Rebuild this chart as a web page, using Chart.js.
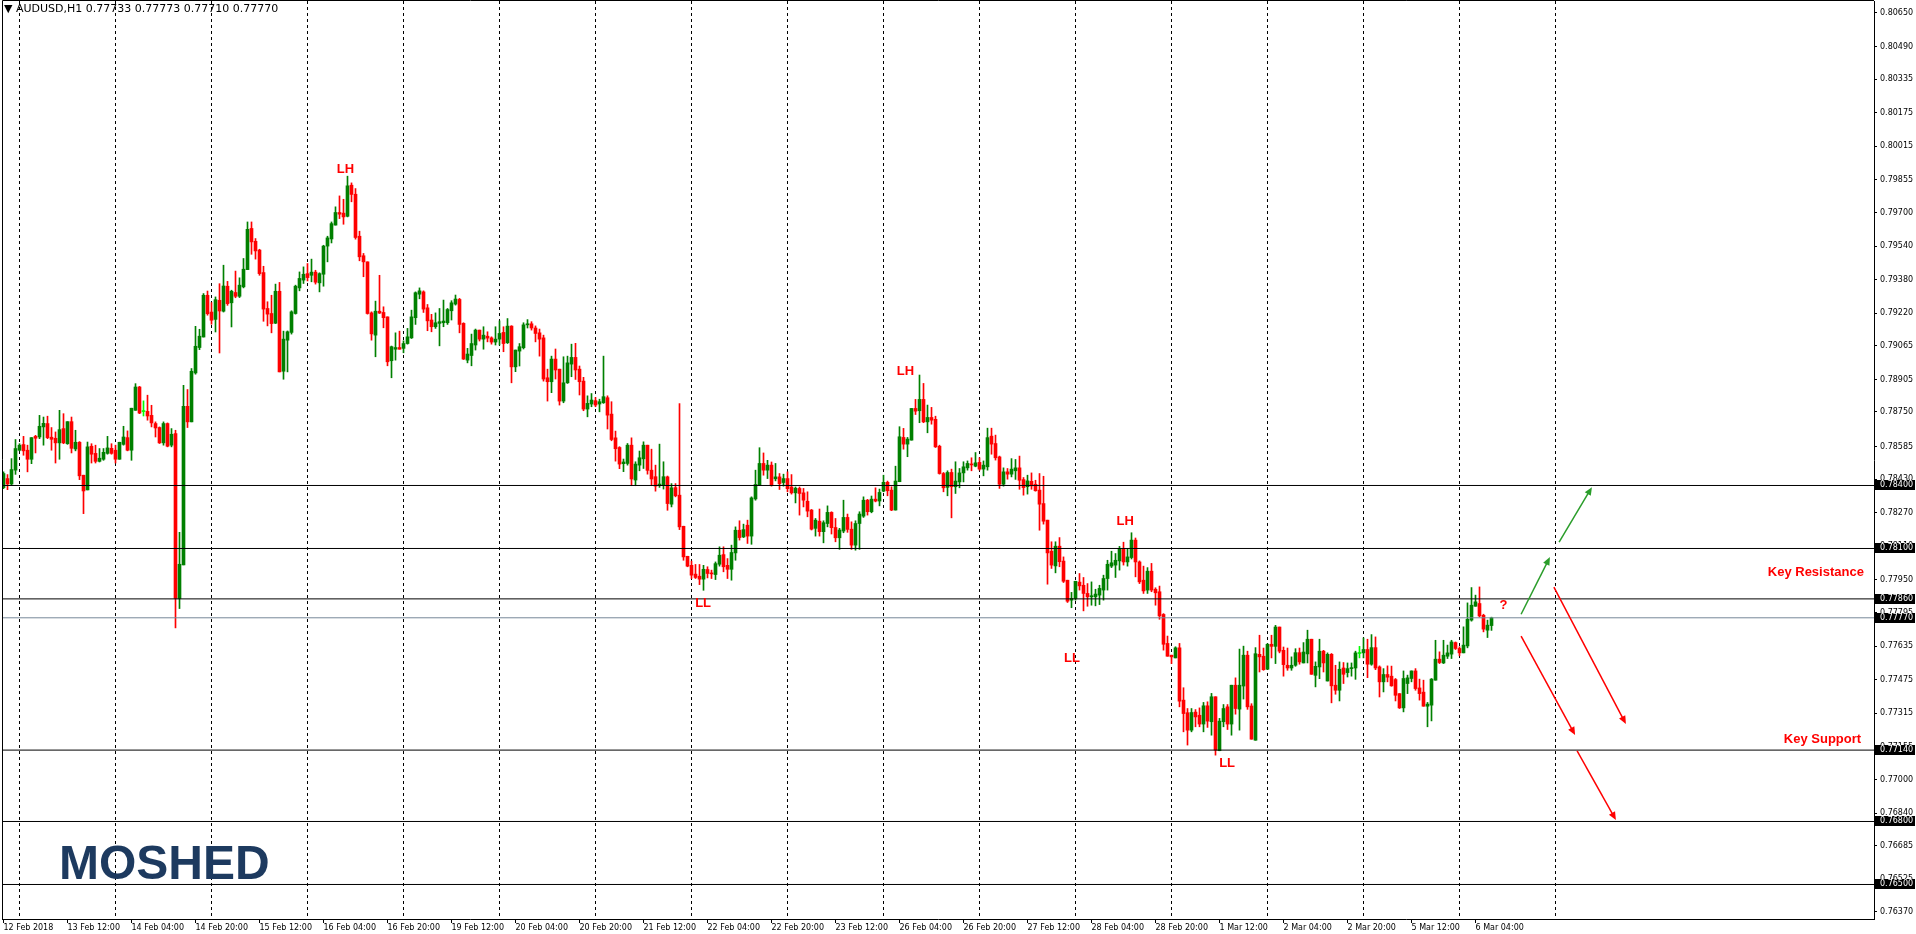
<!DOCTYPE html>
<html>
<head>
<meta charset="utf-8">
<script src="https://cdn.jsdelivr.net/npm/chart.js@4.4.0/dist/chart.umd.min.js"></script>
<style>
  html, body { margin: 0; padding: 0; background: #fff; overflow: hidden; }
</style>
</head>
<body>
<canvas id="chart" width="1916" height="934"></canvas>
<script>
// AUDUSD H1 candles, first bar = 12 Feb 2018 20:00
const open = [
  0.78390,0.78433,0.78407,0.78473,0.78568,0.78595,0.78568,0.78525,0.78634,0.78631,
  0.78679,0.78695,0.78630,0.78625,0.78603,0.78671,0.78599,0.78704,0.78574,0.78606,
  0.78449,0.78379,0.78587,0.78553,0.78515,0.78525,0.78553,0.78577,0.78568,0.78525,
  0.78596,0.78628,0.78568,0.78758,0.78869,0.78752,0.78753,0.78734,0.78695,0.78676,
  0.78603,0.78695,0.78592,0.78647,0.77862,0.78022,0.78777,0.78703,0.78936,0.79057,
  0.79107,0.79306,0.79226,0.79191,0.79282,0.79230,0.79349,0.79270,0.79319,0.79301,
  0.79346,0.79428,0.79624,0.79563,0.79521,0.79414,0.79243,0.79219,0.79173,0.79325,
  0.78944,0.79092,0.79129,0.79219,0.79341,0.79378,0.79409,0.79401,0.79416,0.79365,
  0.79406,0.79540,0.79574,0.79640,0.79700,0.79697,0.79682,0.79830,0.79787,0.79587,
  0.79494,0.79465,0.79222,0.79116,0.79230,0.79224,0.79203,0.78994,0.79049,0.79057,
  0.79053,0.79076,0.79103,0.79199,0.79311,0.79322,0.79246,0.79188,0.79156,0.79172,
  0.79175,0.79175,0.79232,0.79264,0.79286,0.79172,0.78997,0.79019,0.79069,0.79140,
  0.79097,0.79111,0.79103,0.79083,0.79097,0.79129,0.79080,0.79159,0.78965,0.79040,
  0.79056,0.79165,0.79170,0.79150,0.79127,0.79103,0.78913,0.78894,0.79002,0.78954,
  0.78802,0.78889,0.78978,0.79010,0.78954,0.78897,0.78764,0.78788,0.78804,0.78788,
  0.78794,0.78818,0.78740,0.78627,0.78581,0.78504,0.78505,0.78592,0.78426,0.78497,
  0.78527,0.78592,0.78473,0.78442,0.78400,0.78402,0.78441,0.78311,0.78390,0.78354,
  0.78206,0.78063,0.78020,0.77978,0.77968,0.77954,0.78000,0.77983,0.77976,0.78025,
  0.78071,0.78020,0.78001,0.78079,0.78187,0.78155,0.78211,0.78159,0.78336,0.78400,
  0.78505,0.78473,0.78497,0.78432,0.78441,0.78414,0.78433,0.78393,0.78365,0.78386,
  0.78365,0.78325,0.78283,0.78196,0.78230,0.78180,0.78219,0.78272,0.78200,0.78151,
  0.78183,0.78248,0.78192,0.78116,0.78219,0.78254,0.78330,0.78275,0.78335,0.78326,
  0.78373,0.78415,0.78378,0.78283,0.78418,0.78629,0.78597,0.78616,0.78767,0.78756,
  0.78810,0.78703,0.78724,0.78715,0.78587,0.78457,0.78391,0.78462,0.78394,0.78417,
  0.78460,0.78484,0.78502,0.78492,0.78510,0.78478,0.78489,0.78635,0.78600,0.78536,
  0.78406,0.78465,0.78454,0.78470,0.78484,0.78428,0.78394,0.78420,0.78406,0.78378,
  0.78314,0.78235,0.78087,0.78017,0.78111,0.78040,0.77949,0.77854,0.77862,0.77940,
  0.77925,0.77886,0.77870,0.77870,0.77878,0.77902,0.77957,0.78016,0.78021,0.78041,
  0.78100,0.78036,0.78057,0.78140,0.78036,0.77949,0.77902,0.77992,0.77906,0.77894,
  0.77786,0.77648,0.77592,0.77579,0.77627,0.77378,0.77318,0.77235,0.77321,0.77306,
  0.77264,0.77351,0.77275,0.77394,0.77137,0.77275,0.77346,0.77264,0.77449,0.77335,
  0.77445,0.77592,0.77350,0.77187,0.77596,0.77587,0.77525,0.77644,0.77634,0.77726,
  0.77615,0.77544,0.77531,0.77544,0.77604,0.77555,0.77598,0.77668,0.77496,0.77536,
  0.77611,0.77469,0.77596,0.77449,0.77425,0.77531,0.77509,0.77528,0.77531,0.77600,
  0.77603,0.77619,0.77549,0.77628,0.77536,0.77465,0.77500,0.77492,0.77476,0.77409,
  0.77341,0.77457,0.77481,0.77517,0.77436,0.77416,0.77349,0.77354,0.77473,0.77573,
  0.77555,0.77587,0.77597,0.77652,0.77624,0.77603,0.77636,0.77759,0.77825,0.77838,
  0.77782,0.77711,0.77733
];
const high = [
  0.78465,0.78452,0.78528,0.78619,0.78599,0.78634,0.78592,0.78628,0.78639,0.78734,
  0.78726,0.78730,0.78676,0.78655,0.78758,0.78742,0.78704,0.78726,0.78663,0.78609,
  0.78449,0.78607,0.78599,0.78592,0.78576,0.78576,0.78634,0.78599,0.78592,0.78606,
  0.78682,0.78660,0.78768,0.78885,0.78872,0.78803,0.78830,0.78782,0.78703,0.78679,
  0.78703,0.78698,0.78671,0.78663,0.78177,0.78877,0.78857,0.78957,0.79158,0.79144,
  0.79314,0.79326,0.79271,0.79298,0.79361,0.79449,0.79372,0.79330,0.79421,0.79389,
  0.79481,0.79655,0.79655,0.79576,0.79525,0.79444,0.79275,0.79306,0.79359,0.79367,
  0.79135,0.79136,0.79232,0.79354,0.79417,0.79441,0.79457,0.79478,0.79425,0.79413,
  0.79544,0.79587,0.79655,0.79727,0.79779,0.79763,0.79873,0.79841,0.79814,0.79611,
  0.79505,0.79465,0.79227,0.79278,0.79401,0.79251,0.79203,0.79064,0.79127,0.79135,
  0.79089,0.79148,0.79235,0.79322,0.79341,0.79327,0.79262,0.79215,0.79222,0.79243,
  0.79283,0.79243,0.79280,0.79307,0.79291,0.79175,0.79053,0.79121,0.79145,0.79140,
  0.79156,0.79132,0.79108,0.79156,0.79184,0.79156,0.79195,0.79161,0.79045,0.79076,
  0.79175,0.79190,0.79180,0.79160,0.79145,0.79116,0.78954,0.79016,0.79050,0.78954,
  0.79013,0.79016,0.79073,0.79077,0.78969,0.78915,0.78827,0.78838,0.78819,0.78811,
  0.79016,0.78827,0.78799,0.78659,0.78585,0.78526,0.78600,0.78627,0.78513,0.78564,
  0.78608,0.78592,0.78573,0.78497,0.78597,0.78513,0.78445,0.78409,0.78409,0.78790,
  0.78206,0.78063,0.78040,0.78024,0.78024,0.78020,0.78013,0.77997,0.78036,0.78108,
  0.78108,0.78052,0.78116,0.78203,0.78232,0.78216,0.78235,0.78346,0.78473,0.78580,
  0.78555,0.78520,0.78512,0.78505,0.78457,0.78454,0.78465,0.78452,0.78393,0.78393,
  0.78386,0.78370,0.78286,0.78243,0.78288,0.78232,0.78303,0.78275,0.78243,0.78196,
  0.78330,0.78264,0.78227,0.78232,0.78275,0.78346,0.78334,0.78350,0.78389,0.78383,
  0.78449,0.78421,0.78394,0.78492,0.78680,0.78672,0.78629,0.78767,0.78810,0.78926,
  0.78886,0.78783,0.78772,0.78730,0.78592,0.78462,0.78470,0.78478,0.78513,0.78481,
  0.78513,0.78517,0.78532,0.78557,0.78532,0.78517,0.78673,0.78673,0.78640,0.78540,
  0.78484,0.78481,0.78528,0.78524,0.78540,0.78438,0.78449,0.78460,0.78425,0.78457,
  0.78444,0.78235,0.78132,0.78132,0.78152,0.78060,0.77949,0.77891,0.77944,0.77981,
  0.77962,0.77933,0.77941,0.77906,0.77925,0.77973,0.78044,0.78087,0.78076,0.78110,
  0.78130,0.78100,0.78175,0.78150,0.78041,0.78016,0.78009,0.78029,0.77913,0.77921,
  0.77790,0.77683,0.77592,0.77632,0.77648,0.77437,0.77338,0.77338,0.77333,0.77341,
  0.77367,0.77370,0.77410,0.77394,0.77291,0.77357,0.77357,0.77449,0.77484,0.77621,
  0.77635,0.77611,0.77361,0.77628,0.77687,0.77626,0.77647,0.77687,0.77734,0.77726,
  0.77631,0.77626,0.77584,0.77623,0.77626,0.77652,0.77711,0.77668,0.77560,0.77668,
  0.77615,0.77603,0.77600,0.77544,0.77560,0.77557,0.77555,0.77555,0.77611,0.77634,
  0.77674,0.77668,0.77690,0.77679,0.77541,0.77528,0.77541,0.77540,0.77481,0.77409,
  0.77517,0.77497,0.77517,0.77528,0.77478,0.77473,0.77367,0.77481,0.77663,0.77608,
  0.77663,0.77640,0.77663,0.77655,0.77632,0.77727,0.77841,0.77914,0.77878,0.77917,
  0.77787,0.77759,0.77773
];
const low = [
  0.78385,0.78380,0.78401,0.78453,0.78565,0.78544,0.78465,0.78504,0.78555,0.78623,
  0.78592,0.78623,0.78568,0.78507,0.78525,0.78599,0.78596,0.78555,0.78565,0.78428,
  0.78266,0.78379,0.78507,0.78507,0.78512,0.78520,0.78549,0.78549,0.78507,0.78525,
  0.78592,0.78565,0.78520,0.78758,0.78742,0.78731,0.78711,0.78679,0.78631,0.78600,
  0.78592,0.78584,0.78584,0.77722,0.77814,0.78022,0.78676,0.78703,0.78930,0.79047,
  0.79107,0.79211,0.79168,0.79131,0.79031,0.79226,0.79258,0.79155,0.79294,0.79295,
  0.79341,0.79428,0.79501,0.79478,0.79401,0.79182,0.79160,0.79127,0.79171,0.78941,
  0.78906,0.78941,0.79121,0.79216,0.79327,0.79362,0.79374,0.79370,0.79359,0.79322,
  0.79349,0.79465,0.79555,0.79640,0.79671,0.79644,0.79679,0.79751,0.79573,0.79470,
  0.79394,0.79216,0.79092,0.79013,0.79219,0.79151,0.78970,0.78913,0.78997,0.79049,
  0.79032,0.79073,0.79100,0.79167,0.79289,0.79224,0.79137,0.79132,0.79148,0.79065,
  0.79156,0.79167,0.79188,0.79259,0.79127,0.79000,0.78984,0.78970,0.79045,0.79088,
  0.79049,0.79084,0.79073,0.79069,0.79069,0.79037,0.79076,0.78889,0.78942,0.78969,
  0.79050,0.79150,0.79140,0.79084,0.79016,0.78897,0.78802,0.78842,0.78907,0.78783,
  0.78794,0.78886,0.78918,0.78905,0.78831,0.78756,0.78727,0.78775,0.78775,0.78751,
  0.78791,0.78669,0.78613,0.78516,0.78480,0.78466,0.78497,0.78399,0.78399,0.78470,
  0.78481,0.78454,0.78399,0.78373,0.78391,0.78383,0.78282,0.78298,0.78346,0.78190,
  0.78044,0.78013,0.77957,0.77957,0.77928,0.77901,0.77960,0.77957,0.77952,0.78016,
  0.77989,0.77957,0.77949,0.78044,0.78140,0.78152,0.78124,0.78120,0.78330,0.78400,
  0.78449,0.78433,0.78397,0.78422,0.78381,0.78397,0.78370,0.78359,0.78317,0.78259,
  0.78298,0.78251,0.78188,0.78159,0.78159,0.78127,0.78203,0.78169,0.78132,0.78096,
  0.78175,0.78177,0.78096,0.78092,0.78096,0.78248,0.78259,0.78270,0.78322,0.78303,
  0.78370,0.78351,0.78280,0.78283,0.78418,0.78573,0.78537,0.78616,0.78738,0.78699,
  0.78699,0.78651,0.78692,0.78581,0.78454,0.78370,0.78351,0.78246,0.78362,0.78389,
  0.78417,0.78473,0.78470,0.78489,0.78473,0.78446,0.78473,0.78549,0.78521,0.78386,
  0.78397,0.78430,0.78441,0.78429,0.78382,0.78354,0.78359,0.78382,0.78373,0.78187,
  0.78216,0.77930,0.78005,0.77984,0.78013,0.77938,0.77843,0.77818,0.77854,0.77902,
  0.77803,0.77825,0.77830,0.77827,0.77833,0.77854,0.77902,0.78009,0.77962,0.77997,
  0.78021,0.78016,0.78050,0.77965,0.77933,0.77886,0.77886,0.77894,0.77830,0.77763,
  0.77616,0.77587,0.77552,0.77579,0.77346,0.77227,0.77164,0.77227,0.77251,0.77251,
  0.77227,0.77248,0.77211,0.77116,0.77137,0.77251,0.77238,0.77211,0.77311,0.77235,
  0.77383,0.77334,0.77192,0.77187,0.77512,0.77520,0.77525,0.77579,0.77552,0.77603,
  0.77492,0.77520,0.77520,0.77539,0.77549,0.77555,0.77555,0.77501,0.77441,0.77480,
  0.77512,0.77469,0.77365,0.77406,0.77374,0.77457,0.77488,0.77492,0.77477,0.77579,
  0.77579,0.77485,0.77544,0.77523,0.77393,0.77417,0.77465,0.77444,0.77374,0.77338,
  0.77322,0.77409,0.77465,0.77425,0.77378,0.77349,0.77251,0.77279,0.77473,0.77552,
  0.77552,0.77576,0.77576,0.77619,0.77589,0.77603,0.77627,0.77754,0.77825,0.77774,
  0.77703,0.77676,0.77710
];
const close = [
  0.78457,0.78407,0.78476,0.78576,0.78592,0.78565,0.78525,0.78628,0.78625,0.78682,
  0.78696,0.78628,0.78620,0.78603,0.78666,0.78603,0.78704,0.78577,0.78606,0.78446,
  0.78374,0.78584,0.78549,0.78515,0.78530,0.78558,0.78579,0.78553,0.78525,0.78606,
  0.78631,0.78568,0.78768,0.78869,0.78745,0.78752,0.78731,0.78698,0.78674,0.78603,
  0.78695,0.78587,0.78644,0.77862,0.78025,0.78777,0.78703,0.78944,0.79063,0.79111,
  0.79306,0.79218,0.79187,0.79285,0.79231,0.79350,0.79266,0.79325,0.79301,0.79354,
  0.79430,0.79620,0.79560,0.79517,0.79409,0.79240,0.79216,0.79171,0.79325,0.78941,
  0.79097,0.79132,0.79227,0.79349,0.79386,0.79406,0.79390,0.79416,0.79368,0.79409,
  0.79540,0.79579,0.79647,0.79700,0.79692,0.79679,0.79827,0.79786,0.79581,0.79489,
  0.79465,0.79219,0.79122,0.79230,0.79221,0.79199,0.78989,0.79061,0.79057,0.79049,
  0.79076,0.79108,0.79203,0.79318,0.79327,0.79240,0.79184,0.79156,0.79175,0.79180,
  0.79183,0.79238,0.79270,0.79288,0.79167,0.79002,0.79026,0.79076,0.79140,0.79097,
  0.79116,0.79102,0.79083,0.79097,0.79124,0.79076,0.79159,0.78965,0.79045,0.79061,
  0.79165,0.79170,0.79150,0.79124,0.79097,0.78907,0.78894,0.79002,0.78950,0.78802,
  0.78889,0.78984,0.79010,0.78950,0.78894,0.78764,0.78791,0.78807,0.78783,0.78799,
  0.78823,0.78735,0.78619,0.78575,0.78502,0.78512,0.78592,0.78431,0.78502,0.78532,
  0.78592,0.78472,0.78431,0.78397,0.78407,0.78442,0.78314,0.78389,0.78351,0.78203,
  0.78060,0.78016,0.77973,0.77962,0.77954,0.78001,0.77981,0.77979,0.78028,0.78068,
  0.78013,0.78001,0.78081,0.78187,0.78152,0.78190,0.78159,0.78341,0.78405,0.78505,
  0.78473,0.78497,0.78401,0.78441,0.78409,0.78433,0.78385,0.78365,0.78387,0.78362,
  0.78330,0.78278,0.78192,0.78235,0.78180,0.78223,0.78272,0.78199,0.78151,0.78188,
  0.78248,0.78191,0.78116,0.78219,0.78264,0.78330,0.78275,0.78335,0.78326,0.78367,
  0.78415,0.78375,0.78283,0.78421,0.78632,0.78597,0.78621,0.78767,0.78754,0.78810,
  0.78703,0.78724,0.78711,0.78584,0.78457,0.78389,0.78462,0.78394,0.78421,0.78460,
  0.78489,0.78505,0.78498,0.78508,0.78478,0.78497,0.78628,0.78597,0.78532,0.78406,
  0.78465,0.78454,0.78478,0.78484,0.78425,0.78390,0.78422,0.78398,0.78375,0.78311,
  0.78230,0.78079,0.78021,0.78111,0.78037,0.77944,0.77849,0.77862,0.77944,0.77922,
  0.77886,0.77870,0.77875,0.77883,0.77910,0.77957,0.78025,0.78032,0.78044,0.78100,
  0.78036,0.78060,0.78140,0.78036,0.77941,0.77898,0.77992,0.77902,0.77889,0.77779,
  0.77644,0.77587,0.77584,0.77627,0.77373,0.77314,0.77235,0.77319,0.77298,0.77264,
  0.77351,0.77278,0.77394,0.77140,0.77278,0.77338,0.77264,0.77449,0.77338,0.77449,
  0.77592,0.77346,0.77192,0.77599,0.77584,0.77523,0.77644,0.77634,0.77726,0.77611,
  0.77547,0.77531,0.77544,0.77604,0.77560,0.77607,0.77668,0.77501,0.77539,0.77611,
  0.77555,0.77596,0.77446,0.77425,0.77525,0.77501,0.77528,0.77531,0.77603,0.77600,
  0.77619,0.77549,0.77628,0.77531,0.77465,0.77500,0.77487,0.77446,0.77401,0.77341,
  0.77481,0.77484,0.77517,0.77433,0.77409,0.77349,0.77359,0.77478,0.77573,0.77557,
  0.77592,0.77603,0.77655,0.77624,0.77603,0.77640,0.77763,0.77830,0.77846,0.77779,
  0.77716,0.77735,0.77770
];

// bottom axis: label text and the bar it belongs to
const xLabels = ['12 Feb 2018','13 Feb 12:00','14 Feb 04:00','14 Feb 20:00','15 Feb 12:00','16 Feb 04:00',
  '16 Feb 20:00','19 Feb 12:00','20 Feb 04:00','20 Feb 20:00','21 Feb 12:00','22 Feb 04:00','22 Feb 20:00',
  '23 Feb 12:00','26 Feb 04:00','26 Feb 20:00','27 Feb 12:00','28 Feb 04:00','28 Feb 20:00','1 Mar 12:00',
  '2 Mar 04:00','2 Mar 20:00','5 Mar 12:00','6 Mar 04:00'];
const xLabelBars = [0,16,32,48,64,80,96,112,128,144,160,176,192,208,224,240,256,272,288,304,320,336,352,368];
// day separators (00:00 bars)
const daySeparators = [4,28,52,76,100,124,148,172,196,220,244,268,292,316,340,364,388];

const yTicks = [0.80650,0.80490,0.80335,0.80175,0.80015,0.79855,0.79700,0.79540,0.79380,0.79220,0.79065,
  0.78905,0.78750,0.78585,0.78430,0.78270,0.78110,0.77950,0.77795,0.77635,0.77475,0.77315,0.77155,0.77000,
  0.76840,0.76685,0.76525,0.76370];

const levels = [0.78400, 0.78100, 0.77860, 0.77140, 0.76800, 0.76500];
const bidPrice = 0.77770;

// annotations
const noteText  = ['LH', 'LL', 'LH', 'LL', 'LH', 'LL', '?'];
const noteBar   = [85.5, 174.9, 225.5, 267.1, 280.4, 305.9, 375.0];
const notePrice = [0.79906, 0.77837, 0.78941, 0.77575, 0.78228, 0.77075, 0.77828];
const keyText  = ['Key Resistance', 'Key Support'];
const keyBar   = [465.1, 464.4];
const keyPrice = [0.77987, 0.77190];

const arrowColor = ['#2a9d2a', '#2a9d2a', '#ff0000', '#ff0000', '#ff0000'];
const arrowFromBar   = [379.4, 388.9, 379.4, 393.4, 387.6];
const arrowFromPrice = [0.77787, 0.78130, 0.77683, 0.77136, 0.77916];
const arrowToBar     = [386.6, 397.1, 392.9, 403.1, 405.6];
const arrowToPrice   = [0.78059, 0.78392, 0.77212, 0.76807, 0.77264];

const UP = '#008000', DOWN = '#ff0000', DOJI = '#00ff00';
const X_MIN = -0.375, X_MAX = 467.625;
const Y_MAX = 0.8070714, Y_MIN = 0.7633571;
const AXIS_FONT = { family: 'DejaVu Sans', size: 8 };

const bars = close.map((c, i) => i);
const candleColor = bars.map(i => close[i] > open[i] ? UP : (close[i] < open[i] ? DOWN : DOJI));

const levelLines = levels.map(v => ({
  type: 'line',
  data: [{ x: X_MIN, y: v }, { x: X_MAX, y: v }],
  borderColor: '#000', borderWidth: 1, pointRadius: 0, order: 0
}));
levelLines.push({
  type: 'line',
  data: [{ x: X_MIN, y: bidPrice }, { x: X_MAX, y: bidPrice }],
  borderColor: '#778899', borderWidth: 1, pointRadius: 0, order: 0
});

function drawArrow(ctx, x1, y1, x2, y2, color) {
  const ang = Math.atan2(y2 - y1, x2 - x1);
  const len = 8, half = 3.5;
  ctx.strokeStyle = color; ctx.fillStyle = color; ctx.lineWidth = 1.5;
  ctx.beginPath();
  ctx.moveTo(x1, y1);
  ctx.lineTo(x2 - Math.cos(ang) * len * 0.7, y2 - Math.sin(ang) * len * 0.7);
  ctx.stroke();
  ctx.beginPath();
  ctx.moveTo(x2, y2);
  ctx.lineTo(x2 - Math.cos(ang) * len - Math.sin(ang) * half, y2 - Math.sin(ang) * len + Math.cos(ang) * half);
  ctx.lineTo(x2 - Math.cos(ang) * len + Math.sin(ang) * half, y2 - Math.sin(ang) * len - Math.cos(ang) * half);
  ctx.closePath();
  ctx.fill();
}

const overlay = {
  id: 'overlay',
  afterDatasetsDraw(chart) {
    const { ctx, scales: { x, y } } = chart;
    ctx.save();
    arrowColor.forEach((col, i) => {
      drawArrow(ctx, x.getPixelForValue(arrowFromBar[i]), y.getPixelForValue(arrowFromPrice[i]),
        x.getPixelForValue(arrowToBar[i]), y.getPixelForValue(arrowToPrice[i]), col);
    });
    ctx.fillStyle = '#ff0000';
    ctx.font = 'bold 13px "Liberation Sans"';
    ctx.textAlign = 'center';
    ctx.textBaseline = 'middle';
    noteText.forEach((t, i) => ctx.fillText(t, x.getPixelForValue(noteBar[i]), y.getPixelForValue(notePrice[i])));
    ctx.textAlign = 'right';
    keyText.forEach((t, i) => ctx.fillText(t, x.getPixelForValue(keyBar[i]), y.getPixelForValue(keyPrice[i])));
    ctx.restore();
  },
  afterDraw(chart) {
    const { ctx, chartArea: a, scales: { y } } = chart;
    ctx.save();
    // frame
    ctx.strokeStyle = '#000'; ctx.lineWidth = 1;
    ctx.beginPath();
    ctx.moveTo(a.left + 0.5, a.bottom); ctx.lineTo(a.left + 0.5, a.top - 0.5); ctx.lineTo(a.right, a.top - 0.5);
    ctx.stroke();
    // price boxes on the right scale
    ctx.font = '8px "DejaVu Sans"';
    ctx.textBaseline = 'middle';
    ctx.textAlign = 'left';
    [...levels, bidPrice].forEach(v => {
      const py = Math.round(y.getPixelForValue(v));
      ctx.fillStyle = '#000';
      ctx.fillRect(a.right, py - 5, 41, 10);
      ctx.fillStyle = '#fff';
      ctx.fillText(v.toFixed(5), a.right + 6, py);
    });
    // header
    ctx.fillStyle = '#000';
    ctx.font = '11px "DejaVu Sans"';
    ctx.fillText('\u25BC AUDUSD,H1 0.77733 0.77773 0.77710 0.77770', 4, 9);
    // watermark
    ctx.fillStyle = '#1d3a5f';
    ctx.font = 'bold 48px "Liberation Sans"';
    ctx.textBaseline = 'alphabetic';
    ctx.fillText('MOSHED', a.left + 57, 879);
    ctx.restore();
  }
};

new Chart(document.getElementById('chart'), {
  type: 'bar',
  data: {
    datasets: [
      {
        label: 'wick',
        data: bars.map(i => ({ x: i, y: [low[i], high[i]] })),
        backgroundColor: candleColor, borderWidth: 0,
        barThickness: 1, grouped: false, order: 2
      },
      {
        label: 'body',
        data: bars.map(i => ({ x: i, y: [open[i], close[i]] })),
        backgroundColor: candleColor, borderWidth: 0,
        barThickness: 3, minBarLength: 1, grouped: false, order: 1
      },
      ...levelLines
    ]
  },
  options: {
    responsive: false,
    animation: false,
    layout: { padding: { left: 2, top: 1, right: 0, bottom: 0 } },
    plugins: { legend: { display: false }, tooltip: { enabled: false } },
    scales: {
      x: {
        type: 'linear', position: 'bottom', min: X_MIN, max: X_MAX, offset: false,
        grid: { offset: false, drawOnChartArea: false, drawTicks: true, tickLength: 4, tickColor: '#000' },
        border: { display: true, color: '#000' },
        ticks: {
          autoSkip: false, maxRotation: 0, minRotation: 0, align: 'start', padding: 0,
          color: '#000', font: AXIS_FONT,
          callback: (v, i) => xLabels[i]
        },
        afterBuildTicks: s => { s.ticks = xLabelBars.map(v => ({ value: v })); },
        afterFit: s => { s.height = 15; s.paddingLeft = 0; s.paddingRight = 0; }
      },
      xSep: {
        type: 'linear', position: 'bottom', min: X_MIN, max: X_MAX, offset: false,
        grid: { offset: false, color: '#000', lineWidth: 1, drawTicks: false },
        border: { display: false, dash: [3, 3] },
        ticks: { display: false },
        afterBuildTicks: s => { s.ticks = daySeparators.map(v => ({ value: v })); },
        afterFit: s => { s.height = 0; s.paddingLeft = 0; s.paddingRight = 0; }
      },
      y: {
        type: 'linear', position: 'right', min: Y_MIN, max: Y_MAX, beginAtZero: false,
        grid: { drawOnChartArea: false, drawTicks: true, tickLength: 3, tickColor: '#000' },
        border: { display: true, color: '#000' },
        ticks: { autoSkip: false, padding: 3, color: '#000', font: AXIS_FONT, callback: v => v.toFixed(5) },
        afterBuildTicks: s => { s.ticks = yTicks.map(v => ({ value: v })); },
        afterFit: s => { s.width = 42; s.paddingTop = 0; s.paddingBottom = 0; }
      }
    }
  },
  plugins: [overlay]
});
</script>
</body>
</html>
